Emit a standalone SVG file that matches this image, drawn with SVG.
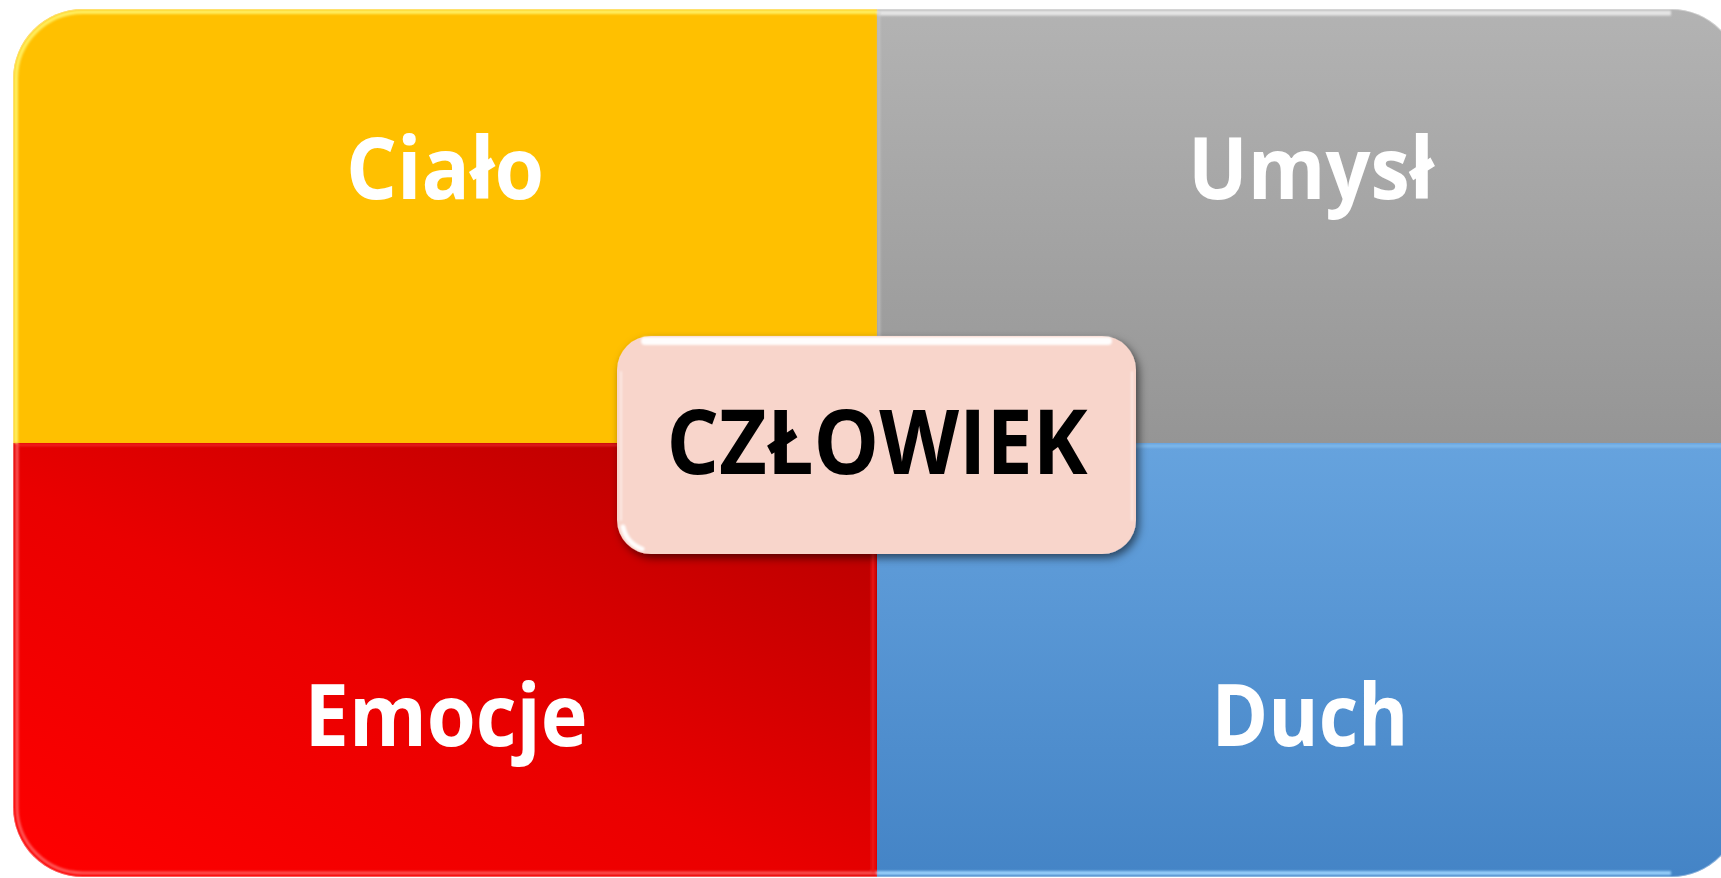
<svg xmlns="http://www.w3.org/2000/svg" width="1721" height="878" viewBox="0 0 1721 878">
  <defs>
    <clipPath id="outerClip">
      <rect x="13" y="9" width="1728" height="868" rx="70" ry="70"/>
    </clipPath>
    <linearGradient id="gGray" x1="0" y1="0" x2="0" y2="1">
      <stop offset="0" stop-color="#B3B3B3"/>
      <stop offset="1" stop-color="#959595"/>
    </linearGradient>
    <linearGradient id="gBlue" x1="0" y1="0" x2="0" y2="1">
      <stop offset="0" stop-color="#66A3DE"/>
      <stop offset="1" stop-color="#4484C6"/>
    </linearGradient>
    <linearGradient id="gRed" x1="0" y1="1" x2="1" y2="0">
      <stop offset="0" stop-color="#FF0000"/>
      <stop offset="0.45" stop-color="#EA0000"/>
      <stop offset="1" stop-color="#B00000"/>
    </linearGradient>
    <filter id="shadow" x="-10%" y="-20%" width="120%" height="140%">
      <feDropShadow dx="3" dy="4" stdDeviation="4" flood-color="#000" flood-opacity="0.55"/>
    </filter>
    <filter id="soft" x="-5%" y="-5%" width="110%" height="110%">
      <feGaussianBlur stdDeviation="1.2"/>
    </filter>
  </defs>
  <style>
    .lbl { font-family: "Open Sans", "Noto Sans", "Liberation Sans", sans-serif; font-weight: 700; text-anchor: middle; }
    .quad { fill: #FFFFFF; font-size: 86px; }
    .center { fill: #000000; font-size: 89px; }
  </style>

  <g clip-path="url(#outerClip)">
    <g id="node-cialo">
      <rect x="13" y="9" width="864" height="434" fill="#FFC000"/>
      <text class="lbl quad" x="445" y="199" textLength="198" lengthAdjust="spacingAndGlyphs">Ciało</text>
    </g>
    <g id="node-umysl">
      <rect x="877" y="9" width="864" height="434" fill="url(#gGray)"/>
      <text class="lbl quad" x="1311" y="199" textLength="246" lengthAdjust="spacingAndGlyphs">Umysł</text>
    </g>
    <g id="node-emocje">
      <rect x="13" y="443" width="864" height="434" fill="url(#gRed)"/>
      <text class="lbl quad" x="446" y="746" textLength="283" lengthAdjust="spacingAndGlyphs">Emocje</text>
    </g>
    <g id="node-duch">
      <rect x="877" y="443" width="864" height="434" fill="url(#gBlue)"/>
      <text class="lbl quad" x="1310" y="746" textLength="197" lengthAdjust="spacingAndGlyphs">Duch</text>
    </g>
    <!-- bevel highlights -->
    <g filter="url(#soft)" fill="none">
      <path d="M 16 443 L 16 79 A 67 67 0 0 1 83 12 L 877 12" stroke="#FFF36A" stroke-width="4" opacity="0.9"/>
      <path d="M 877 13 L 1671 13" stroke="#F2F2F2" stroke-width="5" opacity="0.8"/>
      <path d="M 17 443 L 17 807 A 66 66 0 0 0 83 873 L 877 873" stroke="#FF7070" stroke-width="3" opacity="0.8"/>
      <path d="M 877 873 L 1671 873" stroke="#9FD6FF" stroke-width="4" opacity="0.9"/>
      <path d="M 873 447 L 873 873" stroke="#F01515" stroke-width="4" opacity="0.8"/>
      <path d="M 17 445 L 873 445" stroke="#FF4040" stroke-width="2" opacity="0.6"/>
      <path d="M 880 446 L 1741 446" stroke="#8CC4F4" stroke-width="3" opacity="0.7"/>
      <path d="M 879 12 L 879 440" stroke="#C8C8C8" stroke-width="3" opacity="0.6"/>
    </g>
    <rect x="13" y="9" width="1728" height="868" rx="70" ry="70" fill="none" stroke="#FFFFFF" stroke-opacity="0.35" stroke-width="2"/>
  </g>

  <g id="connectors"></g>

  <g id="node-czlowiek">
    <rect x="617" y="336" width="519" height="218" rx="34" ry="34" fill="#F8D5CB" filter="url(#shadow)"/>
    <g filter="url(#soft)" fill="none" stroke="#FFFFFF" stroke-linecap="round">
      <path d="M 645 341 L 1108 341" stroke-width="8" opacity="0.95"/>
      <path d="M 623 527 A 30 30 0 0 0 642 549" stroke-width="5" opacity="0.95"/>
      <path d="M 621 372 L 621 520" stroke-width="2" opacity="0.5"/>
      <path d="M 1132 372 L 1132 520" stroke-width="2" opacity="0.5"/>
    </g>
    <text class="lbl center" x="877" y="474" textLength="421" lengthAdjust="spacingAndGlyphs">CZŁOWIEK</text>
  </g>
</svg>
